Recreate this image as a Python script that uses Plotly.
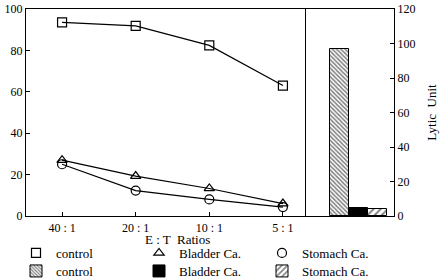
import plotly.graph_objects as go

ratios = ["40 : 1", "20 : 1", "10 : 1", "5 : 1"]
control_line = [93.5, 91.8, 82.4, 63.0]
bladder_line = [27.0, 19.3, 13.3, 6.0]
stomach_line = [25.0, 12.3, 8.0, 4.3]

bar_groups = ["control", "Bladder Ca.", "Stomach Ca."]
bar_values = [97.0, 4.8, 3.8]

FONT = "Times New Roman"
W, H = 446, 280

def px(x):
    return x / W

def py(y):
    return (H - y) / H

fig = go.Figure()

series = [
    ("control", control_line, "square-open"),
    ("Bladder Ca.", bladder_line, "triangle-up-open"),
    ("Stomach Ca.", stomach_line, "circle-open"),
]
for name, vals, sym in series:
    fig.add_trace(go.Scatter(x=ratios, y=vals, mode="lines", line=dict(color="black", width=1.2),
                             showlegend=False, xaxis="x", yaxis="y", cliponaxis=False))
for name, vals, sym in series:
    fig.add_trace(go.Scatter(x=ratios, y=vals, mode="markers", name=name,
                             marker=dict(symbol=sym, size=9, color="black",
                                         line=dict(color="black", width=1.2)),
                             xaxis="x", yaxis="y", legend="legend", cliponaxis=False))

bar_styles = [
    dict(shape="\\", fgcolor="black", bgcolor="white", size=3, solidity=0.5),
    dict(shape="", fgcolor="black", bgcolor="black"),
    dict(shape="/", fgcolor="black", bgcolor="white", size=5, solidity=0.4),
]
for g, v, pat in zip(bar_groups, bar_values, bar_styles):
    fig.add_trace(go.Bar(x=[g], y=[v], name=g, xaxis="x2", yaxis="y2", width=1,
                         marker=dict(color="black" if pat["shape"] == "" else "white",
                                     pattern=pat, line=dict(color="black", width=1)),
                         legend="legend2"))

ydom = [py(216), py(9)]
axfont = dict(family=FONT, size=12, color="black")
legfont = dict(family=FONT, size=13, color="black")

fig.update_layout(
    width=W, height=H,
    margin=dict(l=0, r=0, t=0, b=0, autoexpand=False),
    paper_bgcolor="white", plot_bgcolor="white",
    font=dict(family=FONT, size=12, color="black"),
    barmode="overlay", bargap=0,
    xaxis=dict(domain=[px(26), px(305)], type="category", range=[-0.49, 3.3],
               showline=True, linecolor="black", linewidth=1.2, mirror=True,
               ticks="inside", ticklen=4, tickcolor="black", showgrid=False,
               tickfont=axfont, anchor="y", zeroline=False),
    yaxis=dict(domain=ydom, range=[0, 100], dtick=20, showline=True, linecolor="black",
               linewidth=1.2, mirror=True, ticks="inside", ticklen=4, tickcolor="black",
               showgrid=False, zeroline=False, tickfont=axfont, anchor="x"),
    xaxis2=dict(domain=[px(305), px(394)], type="category", range=[-1.84, 2.86],
                showline=True, linecolor="black", linewidth=1.2, mirror=True,
                ticks="", showticklabels=False, showgrid=False, anchor="y2"),
    yaxis2=dict(domain=ydom, range=[0, 120], dtick=20, side="right", anchor="x2",
                showline=True, linecolor="black", linewidth=1.2, mirror=False,
                ticks="inside", ticklen=4, tickcolor="black", showgrid=False,
                zeroline=False, tickfont=axfont,
                title=dict(text="Lytic  Unit", font=dict(family=FONT, size=13), standoff=12)),
    legend=dict(orientation="h", x=px(16), y=py(253), xanchor="left", yanchor="middle",
                entrywidth=78, entrywidthmode="pixels", font=legfont,
                bgcolor="rgba(0,0,0,0)", itemwidth=30, tracegroupgap=0),
    legend2=dict(orientation="h", x=px(16), y=py(271), xanchor="left", yanchor="middle",
                 entrywidth=78, entrywidthmode="pixels", font=legfont,
                 bgcolor="rgba(0,0,0,0)", itemwidth=30, tracegroupgap=0),
    annotations=[dict(text="E : T  Ratios", x=px(177), y=py(239), xref="paper", yref="paper",
                      showarrow=False, font=dict(family=FONT, size=13), xanchor="center",
                      yanchor="middle")],
)

fig.write_html("out.html")
